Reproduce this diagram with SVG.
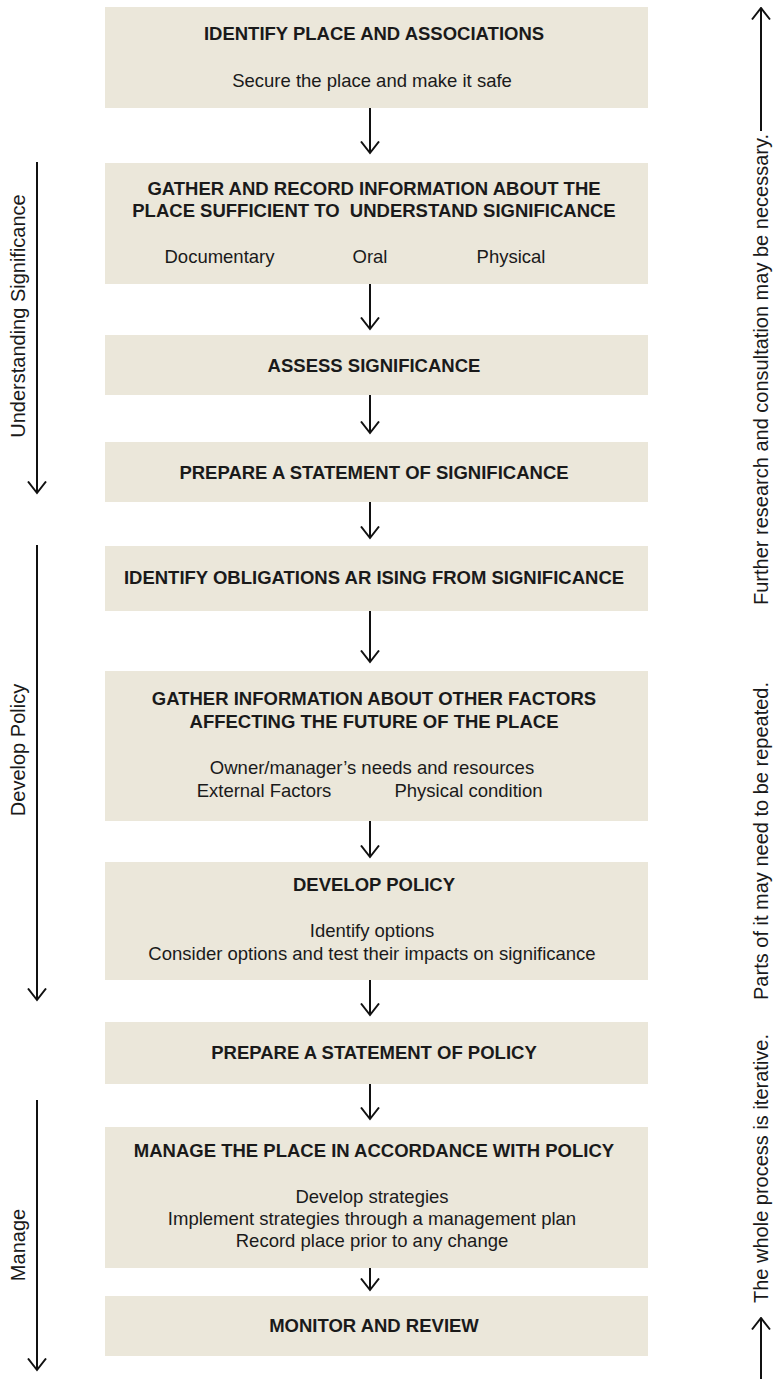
<svg xmlns="http://www.w3.org/2000/svg" width="773" height="1379" viewBox="0 0 773 1379">
<style>
.box{fill:#ebe7da}
.t{font-family:"Liberation Sans",Arial,sans-serif;font-size:18.5px;fill:#1a1a1a;text-anchor:middle}
.b{font-weight:bold}
.s{font-family:"Liberation Sans",Arial,sans-serif;font-size:20px;fill:#1a1a1a}
.ln{stroke:#111;stroke-width:2;fill:none}
</style>
<defs>
<marker id="ah" viewBox="0 0 14 20" refX="12.5" refY="10" markerWidth="14" markerHeight="20" markerUnits="userSpaceOnUse" orient="auto">
<path d="M1,1 L12.5,10 L1,19" fill="none" stroke="#111" stroke-width="2"/>
</marker>
</defs>
<rect width="773" height="1379" fill="#fff"/>
<g id="n1"><rect class="box" x="105" y="7" width="543" height="101"/>
<text class="t b" x="374" y="40">IDENTIFY PLACE AND ASSOCIATIONS</text>
<text class="t" x="372" y="87">Secure the place and make it safe</text></g>
<g id="n2"><rect class="box" x="105" y="163" width="543" height="121"/>
<text class="t b" x="374" y="195">GATHER AND RECORD INFORMATION ABOUT THE</text>
<text class="t b" x="374" y="217" xml:space="preserve">PLACE SUFFICIENT TO  UNDERSTAND SIGNIFICANCE</text>
<text class="t" x="219.5" y="263">Documentary</text>
<text class="t" x="370" y="263">Oral</text>
<text class="t" x="511" y="263">Physical</text></g>
<g id="n3"><rect class="box" x="105" y="335" width="543" height="60"/>
<text class="t b" x="374" y="371.5">ASSESS SIGNIFICANCE</text></g>
<g id="n4"><rect class="box" x="105" y="442" width="543" height="60"/>
<text class="t b" x="374" y="478.5">PREPARE A STATEMENT OF SIGNIFICANCE</text></g>
<g id="n5"><rect class="box" x="105" y="546" width="543" height="65"/>
<text class="t b" x="374" y="584">IDENTIFY OBLIGATIONS AR ISING FROM SIGNIFICANCE</text></g>
<g id="n6"><rect class="box" x="105" y="671" width="543" height="150"/>
<text class="t b" x="374" y="705">GATHER INFORMATION ABOUT OTHER FACTORS</text>
<text class="t b" x="374" y="728">AFFECTING THE FUTURE OF THE PLACE</text>
<text class="t" x="372" y="774">Owner/manager’s needs and resources</text>
<text class="t" x="264" y="797">External Factors</text>
<text class="t" x="468.5" y="797">Physical condition</text></g>
<g id="n7"><rect class="box" x="105" y="862" width="543" height="118"/>
<text class="t b" x="374" y="891">DEVELOP POLICY</text>
<text class="t" x="372" y="937">Identify options</text>
<text class="t" x="372" y="960">Consider options and test their impacts on significance</text></g>
<g id="n8"><rect class="box" x="105" y="1022" width="543" height="62"/>
<text class="t b" x="374" y="1059">PREPARE A STATEMENT OF POLICY</text></g>
<g id="n9"><rect class="box" x="105" y="1127" width="543" height="141"/>
<text class="t b" x="374" y="1157">MANAGE THE PLACE IN ACCORDANCE WITH POLICY</text>
<text class="t" x="372" y="1203">Develop strategies</text>
<text class="t" x="372" y="1225">Implement strategies through a management plan</text>
<text class="t" x="372" y="1247">Record place prior to any change</text></g>
<g id="n10"><rect class="box" x="105" y="1296" width="543" height="60"/>
<text class="t b" x="374" y="1332">MONITOR AND REVIEW</text></g>
<g id="connectors">
<path class="ln" marker-end="url(#ah)" d="M370,108 V153"/>
<path class="ln" marker-end="url(#ah)" d="M370,284 V329"/>
<path class="ln" marker-end="url(#ah)" d="M370,395 V433"/>
<path class="ln" marker-end="url(#ah)" d="M370,502 V538"/>
<path class="ln" marker-end="url(#ah)" d="M370,611 V662"/>
<path class="ln" marker-end="url(#ah)" d="M370,821 V857"/>
<path class="ln" marker-end="url(#ah)" d="M370,980 V1015"/>
<path class="ln" marker-end="url(#ah)" d="M370,1084 V1119"/>
<path class="ln" marker-end="url(#ah)" d="M370,1268 V1290"/>
</g>
<g id="phases">
<path class="ln" marker-end="url(#ah)" d="M37,162 V493"/>
<text class="s" text-anchor="middle" transform="translate(25,316) rotate(-90)">Understanding Significance</text>
<path class="ln" marker-end="url(#ah)" d="M37,545 V1000"/>
<text class="s" text-anchor="middle" transform="translate(25,750) rotate(-90)">Develop Policy</text>
<path class="ln" marker-end="url(#ah)" d="M37,1100 V1370"/>
<text class="s" text-anchor="middle" transform="translate(25,1245) rotate(-90)">Manage</text>
</g>
<g id="iteration">
<path class="ln" marker-end="url(#ah)" d="M761,131 V8"/>
<path class="ln" marker-end="url(#ah)" d="M761,1379 V1318"/>
<text class="s" text-anchor="start" transform="translate(768,1303) rotate(-90)">The whole process is iterative.</text>
<text class="s" text-anchor="end" transform="translate(768,682) rotate(-90)">Parts of it may need to be repeated.</text>
<text class="s" text-anchor="end" transform="translate(768,134) rotate(-90)">Further research and consultation may be necessary.</text>
</g>
</svg>
